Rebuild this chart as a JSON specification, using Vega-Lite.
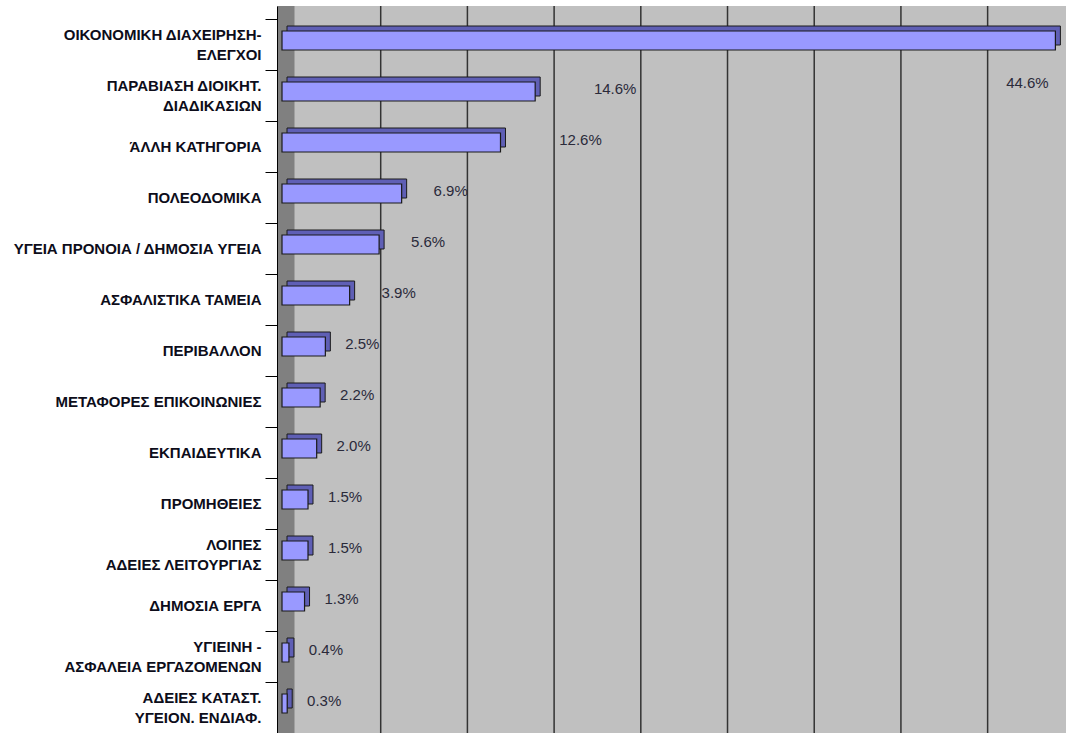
{
  "$schema": "https://vega.github.io/schema/vega-lite/v6.json",
  "width": 789,
  "height": 727,
  "autosize": "none",
  "padding": {"left": 277, "top": 6, "right": 0, "bottom": 0},
  "background": "white",
  "config": {
    "view": {"fill": "#c0c0c0", "stroke": null},
    "font": "Liberation Sans"
  },
  "datasets": {
    "cats": [
      {"cat": "ΟΙΚΟΝΟΜΙΚΗ ΔΙΑΧΕΙΡΗΣΗ-|ΕΛΕΓΧΟΙ", "pct": 44.6},
      {"cat": "ΠΑΡΑΒΙΑΣΗ ΔΙΟΙΚΗΤ.|ΔΙΑΔΙΚΑΣΙΩΝ", "pct": 14.6},
      {"cat": "ΆΛΛΗ ΚΑΤΗΓΟΡΙΑ", "pct": 12.6},
      {"cat": "ΠΟΛΕΟΔΟΜΙΚΑ", "pct": 6.9},
      {"cat": "ΥΓΕΙΑ ΠΡΟΝΟΙΑ / ΔΗΜΟΣΙΑ ΥΓΕΙΑ", "pct": 5.6},
      {"cat": "ΑΣΦΑΛΙΣΤΙΚΑ ΤΑΜΕΙΑ", "pct": 3.9},
      {"cat": "ΠΕΡΙΒΑΛΛΟΝ", "pct": 2.5},
      {"cat": "ΜΕΤΑΦΟΡΕΣ ΕΠΙΚΟΙΝΩΝΙΕΣ", "pct": 2.2},
      {"cat": "ΕΚΠΑΙΔΕΥΤΙΚΑ", "pct": 2.0},
      {"cat": "ΠΡΟΜΗΘΕΙΕΣ", "pct": 1.5},
      {"cat": "ΛΟΙΠΕΣ|ΑΔΕΙΕΣ ΛΕΙΤΟΥΡΓΙΑΣ", "pct": 1.5},
      {"cat": "ΔΗΜΟΣΙΑ ΕΡΓΑ", "pct": 1.3},
      {"cat": "ΥΓΙΕΙΝΗ -|ΑΣΦΑΛΕΙΑ ΕΡΓΑΖΟΜΕΝΩΝ", "pct": 0.4},
      {"cat": "ΑΔΕΙΕΣ ΚΑΤΑΣΤ.|ΥΓΕΙΟΝ. ΕΝΔΙΑΦ.", "pct": 0.3}
    ],
    "grid": [{"v": 5}, {"v": 10}, {"v": 15}, {"v": 20}, {"v": 25}, {"v": 30}, {"v": 35}, {"v": 40}, {"v": 45}]
  },
  "layer": [
    {
      "data": {"values": [{}]},
      "mark": {"type": "rule", "color": "#808080", "strokeWidth": 17, "xOffset": 9},
      "encoding": {"x": {"datum": 0, "type": "quantitative", "scale": {"domain": [0, 45.5], "nice": false}, "axis": null}}
    },
    {
      "data": {"name": "grid"},
      "mark": {"type": "rule", "color": "#333333", "strokeWidth": 1.5, "xOffset": 17},
      "encoding": {"x": {"field": "v", "type": "quantitative", "axis": null}}
    },
    {
      "data": {"name": "cats"},
      "mark": {"type": "bar", "size": 19, "color": "#5f5fb5", "stroke": "#1a1a1a", "strokeWidth": 1, "xOffset": 10, "yOffset": -9},
      "encoding": {
        "x": {"field": "pct", "type": "quantitative", "axis": null},
        "y": {
          "field": "cat", "type": "nominal", "sort": null,
          "scale": {"paddingInner": 0, "paddingOuter": 0.1275, "align": 1},
          "axis": {
            "title": null,
            "labelExpr": "split(datum.label, '|')",
            "tickBand": "extent",
            "tickSize": 12,
            "tickColor": "black",
            "domainColor": "black",
            "labelFontWeight": "bold",
            "labelFontSize": 15,
            "labelColor": "#0d0d1a",
            "labelPadding": 4,
            "labelLineHeight": 20,
            "labelLimit": 300,
            "labelOffset": {"condition": {"test": "indexof(datum.label, '|') >= 0", "value": -10}, "value": 0},
            "grid": false,
            "zindex": 1
          }
        }
      }
    },
    {
      "data": {"name": "cats"},
      "mark": {"type": "bar", "size": 19, "color": "#9999ff", "stroke": "#1a1a1a", "strokeWidth": 1.2, "xOffset": 5, "yOffset": -4},
      "encoding": {
        "x": {"field": "pct", "type": "quantitative", "axis": null},
        "y": {"field": "cat", "type": "nominal", "sort": null}
      }
    },
    {
      "data": {"name": "cats"},
      "transform": [
        {"filter": "datum.pct < 3"},
        {"calculate": "format(datum.pct, '.1f') + '%'", "as": "label"}
      ],
      "mark": {"type": "text", "align": "center", "baseline": "middle", "dx": 42, "dy": -7, "fontSize": 15, "color": "#2a2a3a"},
      "encoding": {
        "x": {"field": "pct", "type": "quantitative", "axis": null},
        "y": {"field": "cat", "type": "nominal", "sort": null},
        "text": {"field": "label"}
      }
    },
    {
      "data": {"name": "cats"},
      "transform": [
        {"filter": "datum.pct >= 3 && datum.pct < 10"},
        {"calculate": "format(datum.pct, '.1f') + '%'", "as": "label"}
      ],
      "mark": {"type": "text", "align": "center", "baseline": "middle", "dx": 54, "dy": -7, "fontSize": 15, "color": "#2a2a3a"},
      "encoding": {
        "x": {"field": "pct", "type": "quantitative", "axis": null},
        "y": {"field": "cat", "type": "nominal", "sort": null},
        "text": {"field": "label"}
      }
    },
    {
      "data": {"name": "cats"},
      "transform": [
        {"filter": "datum.pct >= 10 && datum.pct < 40"},
        {"calculate": "format(datum.pct, '.1f') + '%'", "as": "label"}
      ],
      "mark": {"type": "text", "align": "center", "baseline": "middle", "dx": 85, "dy": -7, "fontSize": 15, "color": "#2a2a3a"},
      "encoding": {
        "x": {"field": "pct", "type": "quantitative", "axis": null},
        "y": {"field": "cat", "type": "nominal", "sort": null},
        "text": {"field": "label"}
      }
    },
    {
      "data": {"name": "cats"},
      "transform": [
        {"filter": "datum.pct >= 40"},
        {"calculate": "format(datum.pct, '.1f') + '%'", "as": "label"}
      ],
      "mark": {"type": "text", "align": "center", "baseline": "middle", "dx": -23, "dy": 38, "fontSize": 15, "color": "#2a2a3a"},
      "encoding": {
        "x": {"field": "pct", "type": "quantitative", "axis": null},
        "y": {"field": "cat", "type": "nominal", "sort": null},
        "text": {"field": "label"}
      }
    }
  ]
}
